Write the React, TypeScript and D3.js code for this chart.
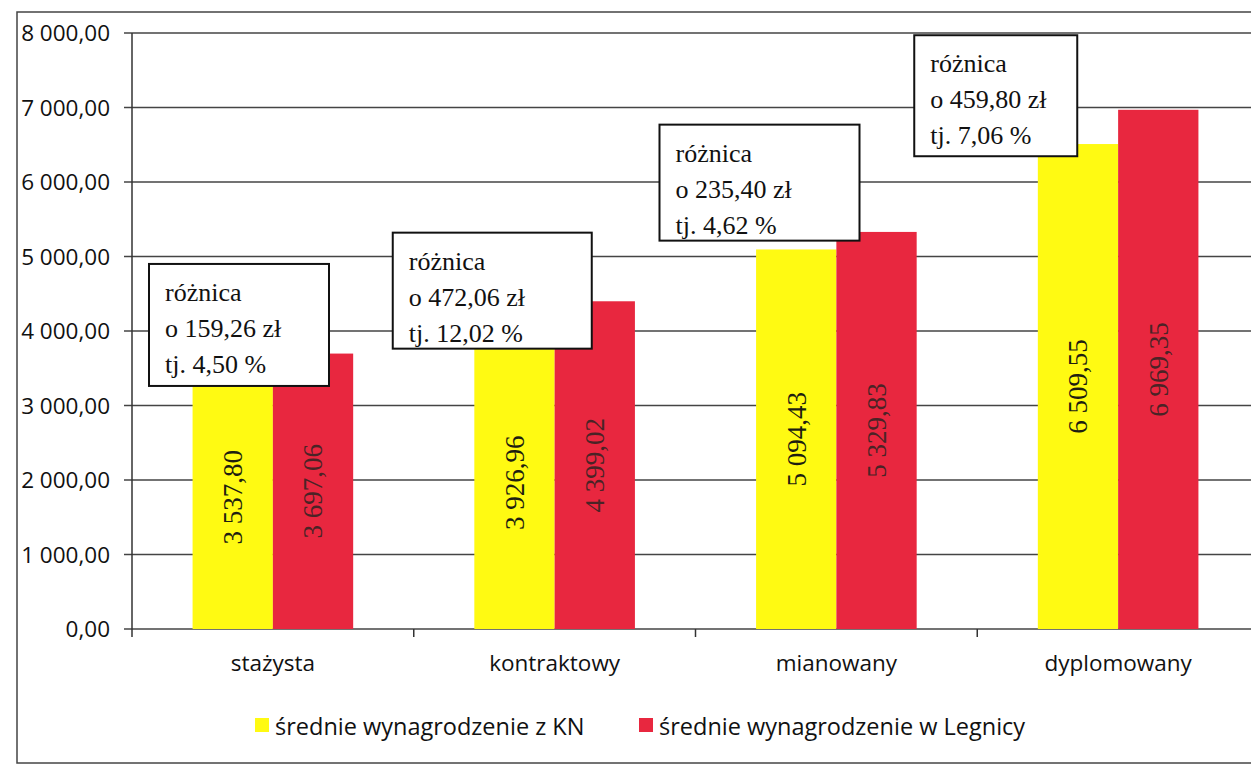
import React from "react";
import * as d3 from "d3";

const categories = ["stażysta", "kontraktowy", "mianowany", "dyplomowany"];
const seriesNames = ["średnie wynagrodzenie z KN", "średnie wynagrodzenie w Legnicy"];
const valuesKN = [3537.8, 3926.96, 5094.43, 6509.55];
const valuesLegnica = [3697.06, 4399.02, 5329.83, 6969.35];
const yTicks = [0, 1000, 2000, 3000, 4000, 5000, 6000, 7000, 8000];
const diffAmount = ["159,26", "472,06", "235,40", "459,80"];
const diffPercent = ["4,50", "12,02", "4,62", "7,06"];

// annotation box layout: x offset from band start (px), top in data units, width, height
const boxLayout = [
  { dx: 17, top: 4900, w: 180, h: 122 },
  { dx: -21, top: 5320, w: 199, h: 116 },
  { dx: -36, top: 6770, w: 200, h: 116 },
  { dx: -63, top: 7970, w: 163, h: 121 },
];

const W = 1251;
const H = 765;
const colors = ["#FFFA12", "#E8273F"];
const labelColors = ["#1e1e10", "#4a2326"];

const fmt = (v: number) => {
  const s = v.toFixed(2).replace(".", ",");
  const [i, d] = s.split(",");
  return i.replace(/\B(?=(\d{3})+(?!\d))/g, " ") + "," + d;
};

export default function App() {
  const left = 132;
  const right = 1259;
  const top = 33;
  const bottom = 629;
  const x = d3.scaleBand<string>().domain(categories).range([left, right]).padding(0);
  const y = d3.scaleLinear().domain([0, 8000]).range([bottom, top]);
  const bw = x.bandwidth();
  const barW = bw * 0.285;
  const off = (bw - 2 * barW) / 2;
  const series = [valuesKN, valuesLegnica];
  const sans = "'Open Sans', sans-serif";
  const serif = "'Liberation Serif', 'Times New Roman', serif";

  return (
    <svg width={W} height={H} style={{ position: "absolute", left: 0, top: 0, background: "#fff" }}>
      {/* outer border */}
      <rect x={17} y={12} width={W + 10} height={751} fill="none" stroke="#444" strokeWidth={1.5} />
      {/* gridlines */}
      {yTicks.map((t) => (
        <g key={t}>
          <line x1={left - 8} x2={right} y1={y(t)} y2={y(t)} stroke="#444" strokeWidth={1.5} />
          <text x={110} y={y(t)} dy="0.36em" textAnchor="end" fontFamily={sans} fontSize={22.5} fill="#111">
            {fmt(t)}
          </text>
        </g>
      ))}
      {/* y axis */}
      <line x1={left} x2={left} y1={top} y2={bottom} stroke="#333" strokeWidth={1.5} />
      {/* category ticks */}
      {categories.map((c) => (
        <line key={c} x1={x(c)!} x2={x(c)!} y1={bottom} y2={bottom + 8} stroke="#333" strokeWidth={1.5} />
      ))}
      {/* bars */}
      {categories.map((c, i) =>
        series.map((s, j) => {
          const bx = x(c)! + off + j * barW;
          const by = y(s[i]);
          const cx = bx + barW / 2;
          const cy = (by + bottom) / 2;
          return (
            <g key={c + j}>
              <rect x={bx} y={by} width={barW} height={bottom - by} fill={colors[j]} />
              <text
                transform={`translate(${cx},${cy}) rotate(-90)`}
                textAnchor="middle"
                dy="0.35em"
                fontFamily={serif}
                fontSize={27}
                fill={labelColors[j]}
              >
                {fmt(s[i])}
              </text>
            </g>
          );
        })
      )}
      {/* category labels */}
      {categories.map((c) => (
        <text key={c} x={x(c)! + bw / 2} y={671} textAnchor="middle" fontFamily={sans} fontSize={22.5} fill="#111">
          {c}
        </text>
      ))}
      {/* annotation boxes */}
      {categories.map((c, i) => {
        const b = boxLayout[i];
        const bx = x(c)! + b.dx;
        const by = y(b.top);
        const lines = ["różnica", `o ${diffAmount[i]} zł`, `tj. ${diffPercent[i]} %`];
        return (
          <g key={"box" + c}>
            <rect x={bx} y={by} width={b.w} height={b.h} fill="#fff" stroke="#111" strokeWidth={2} />
            {lines.map((l, k) => (
              <text key={k} x={bx + 16} y={by + 37 + k * 36} fontFamily={serif} fontSize={26} fill="#111">
                {l}
              </text>
            ))}
          </g>
        );
      })}
      {/* legend */}
      <rect x={255} y={718} width={14} height={14} fill={colors[0]} />
      <text x={275} y={735} fontFamily={sans} fontSize={23.5} fill="#111">{seriesNames[0]}</text>
      <rect x={639} y={718} width={14} height={14} fill={colors[1]} />
      <text x={659} y={735} fontFamily={sans} fontSize={23.5} fill="#111">{seriesNames[1]}</text>
    </svg>
  );
}
